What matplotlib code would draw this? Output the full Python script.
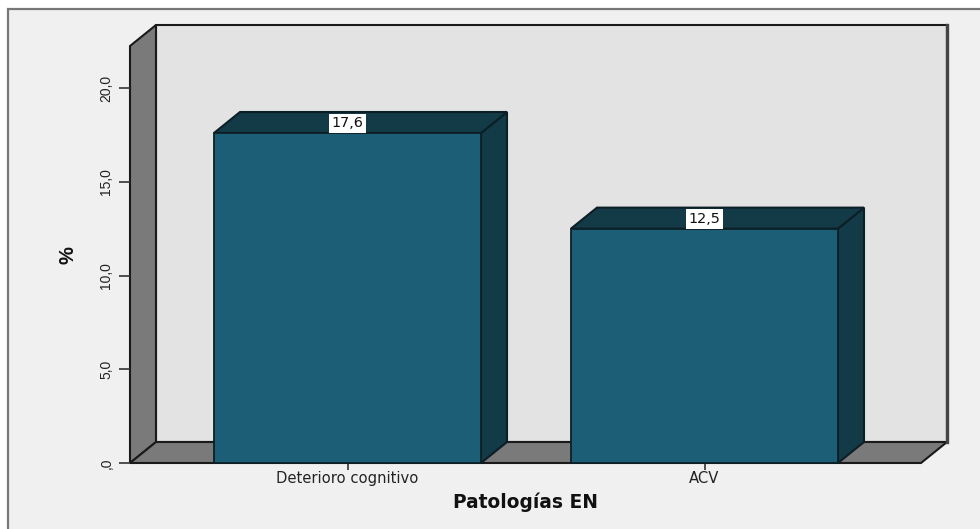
import matplotlib
matplotlib.use("Agg")
import matplotlib.pyplot as plt
from matplotlib.patches import Polygon, Rectangle

categories = ["Deterioro cognitivo", "ACV"]
values = [17.6, 12.5]
value_labels = ["17,6", "12,5"]
y_ticks = [0, 5, 10, 15, 20]
y_tick_labels = [",0", "5,0", "10,0", "15,0", "20,0"]

W, H = 980, 529
FRONT_COL, DARK_COL = "#1c5e75", "#133a47"
WALL_COL, BACK_COL, BG_COL = "#7a7a7a", "#e3e3e3", "#f0f0f0"
EDGE = "#1a1a1a"
WIDE = ["DejaVu Sans"]
NARROW = ["Liberation Sans", "DejaVu Sans"]

fig = plt.figure(figsize=(W / 100, H / 100), dpi=100, facecolor="white")

# Outer chart panel; its right and bottom sides run past the canvas
fig.add_artist(Rectangle((8 / W, -20 / H), 1000 / W, (H + 20 - 9) / H, transform=fig.transFigure,
                         facecolor=BG_COL, edgecolor="#777777", linewidth=1.6, zorder=-5))

# Front plane of the 3D box: x 130..921 px, y 463..46 px
ax = fig.add_axes([130 / W, 1 - 463 / H, 791 / W, 417 / H])
ax.patch.set_visible(False)
unit_x = 357.0
unit_y = 18.75
xmin = -(347.5 - 130) / unit_x
ax.set_xlim(xmin, xmin + 791 / unit_x)
ax.set_ylim(0, 417 / unit_y)
dx, dy = 26 / unit_x, 21 / unit_y
x0, x1 = ax.get_xlim()
y1 = ax.get_ylim()[1]
bar_w = 267 / unit_x


def face(pts, color, edge=EDGE, lw=1.5, z=1):
    ax.add_patch(Polygon(pts, closed=True, facecolor=color, edgecolor=edge, linewidth=lw,
                         joinstyle="miter", clip_on=False, zorder=z))


# Back wall, side wall and floor
face([(x0 + dx, dy), (x1 + dx, dy), (x1 + dx, y1 + dy), (x0 + dx, y1 + dy)], BACK_COL)
ax.plot([x1 + dx, x1 + dx], [dy, y1 + dy], color="#444444", lw=2.4, clip_on=False, zorder=1.5)
face([(x0, 0), (x0 + dx, dy), (x0 + dx, y1 + dy), (x0, y1)], WALL_COL)
face([(x0, 0), (x1, 0), (x1 + dx, dy), (x0 + dx, dy)], WALL_COL)

# Bars: front, top and side faces
for i, v in enumerate(values):
    l, r = i - bar_w / 2, i + bar_w / 2
    face([(r, 0), (r + dx, dy), (r + dx, v + dy), (r, v)], DARK_COL, "#0c1f26", z=3)
    face([(l, v), (r, v), (r + dx, v + dy), (l + dx, v + dy)], DARK_COL, "#0c1f26", z=3)
    ax.bar(i, v, bar_w, color=FRONT_COL, edgecolor="#0c1f26", linewidth=1.3, zorder=4, clip_on=False)
    ax.text(i, v + 0.14, value_labels[i], ha="center", va="bottom", fontsize=10.4, family=WIDE,
            color="#111111", zorder=6,
            bbox=dict(boxstyle="square,pad=0.18", facecolor="white", edgecolor="none"))

for s in ax.spines.values():
    s.set_visible(False)
ax.set_xticks(range(len(categories)), categories, fontsize=10.6, color="#222222", family=WIDE)
ax.set_yticks(y_ticks, y_tick_labels, fontsize=10, color="#222222", rotation=90, va="center", family=NARROW)
ax.tick_params(axis="x", length=5, width=1.2, color="#333333", pad=1)
ax.tick_params(axis="y", length=8, width=1.2, color="#333333", pad=4)
ax.set_xlabel("Patologías EN", fontsize=13.4, fontweight="bold", color="#111111", family=WIDE, va="center")
ax.xaxis.set_label_coords((525.5 - 130) / 791, (463 - 502) / 417)
ax.set_ylabel("%", fontsize=14.5, fontweight="bold", color="#111111", family=NARROW, va="center")
ax.yaxis.set_label_coords((68 - 130) / 791, (463 - 255) / 417)

fig.savefig("out.png", dpi=100, facecolor=fig.get_facecolor())
